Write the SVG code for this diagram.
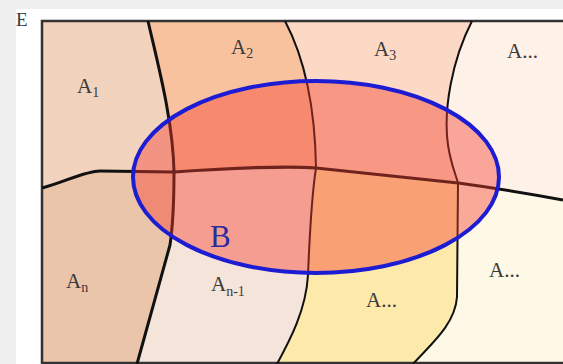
<svg xmlns="http://www.w3.org/2000/svg" width="563" height="364" viewBox="0 0 563 364">
<style>
.lbl{font-family:"Liberation Serif","DejaVu Serif",serif;font-size:21px;fill:#3a3a3a}
.sub{font-size:14px}
.bd{fill:none;stroke:#111;stroke-width:3;stroke-linejoin:round}
</style>
<rect x="0" y="0" width="563" height="364" fill="#efefef"/>
<rect x="16" y="9" width="547" height="355" fill="#ffffff"/>
<text x="16" y="26" class="lbl" style="font-size:19px">E</text>
<g id="A1"><path d="M42,21 L148,21 C158,65 173,120 174,172 L100,171 C85,171 65,182 42,188 Z" fill="#f2d3bd"/>
<text x="77" y="93" class="lbl">A<tspan class="sub" dy="4">1</tspan></text></g>
<g id="A2"><path d="M148,21 L285,21 C303,55 315,100 316,168 C290,166 230,168 174,172 C173,120 158,65 148,21 Z" fill="#f9c29e"/>
<text x="231" y="54" class="lbl">A<tspan class="sub" dy="4">2</tspan></text></g>
<g id="A3"><path d="M285,21 L472,21 C452,60 443,110 448,145 C451,165 456,175 458,183 C420,179 370,174 316,168 C315,100 303,55 285,21 Z" fill="#fbd9c4"/>
<text x="374" y="56" class="lbl">A<tspan class="sub" dy="4">3</tspan></text></g>
<g id="A-top-right"><path d="M472,21 L563,21 L563,200 C510,190 480,186 458,183 C456,175 451,165 448,145 C443,110 452,60 472,21 Z" fill="#fef1e7"/>
<text x="507" y="58" class="lbl">A...</text></g>
<g id="An"><path d="M42,188 C65,182 85,171 100,171 L174,172 C174,200 173,225 170,245 L137,364 L42,364 Z" fill="#ebc5aa"/>
<text x="66" y="288" class="lbl">A<tspan class="sub" dy="4">n</tspan></text></g>
<g id="An-1"><path d="M174,172 C230,168 290,166 316,168 C311,200 309,250 308,275 C306,310 290,340 277,364 L137,364 L170,245 C173,225 174,200 174,172 Z" fill="#f4e4da"/>
<text x="211" y="291" class="lbl">A<tspan class="sub" dy="5">n-1</tspan></text></g>
<g id="A-bottom-mid"><path d="M316,168 C370,174 420,179 458,183 L457,297 C455,325 430,345 413,364 L277,364 C290,340 306,310 308,275 C309,250 311,200 316,168 Z" fill="#fde9a9"/>
<text x="366" y="307" class="lbl">A...</text></g>
<g id="A-bottom-right"><path d="M458,183 C480,186 510,190 563,200 L563,364 L413,364 C430,345 455,325 457,297 Z" fill="#fef8e6"/>
<text x="489" y="277" class="lbl">A...</text></g>
<g id="connectors">
<rect x="42" y="21" width="540" height="342" fill="none" stroke="#333" stroke-width="2.5"/>
<path class="bd" d="M148,21 C158,65 173,120 174,172 C174,200 173,225 170,245 L137,364"/>
<path class="bd" style="stroke-width:2" d="M285,21 C303,55 315,100 316,168 C311,200 309,250 308,275 C306,310 290,340 277,364"/>
<path class="bd" style="stroke-width:2" d="M472,21 C452,60 443,110 448,145 C451,165 456,175 458,183 L457,297 C455,325 430,345 413,364"/>
<path class="bd" d="M42,188 C65,182 85,171 100,171 L174,172 C230,168 290,166 316,168 C370,174 420,179 458,183 C480,186 510,190 563,200"/>
</g>
<g id="B">
<ellipse cx="316" cy="177" rx="183" ry="96" fill="#f53c2d" fill-opacity="0.42" stroke="#1c1cd2" stroke-width="4"/>
<text x="210" y="247" class="lbl" style="font-size:31px;fill:#2b2b9e">B</text>
</g>
</svg>
